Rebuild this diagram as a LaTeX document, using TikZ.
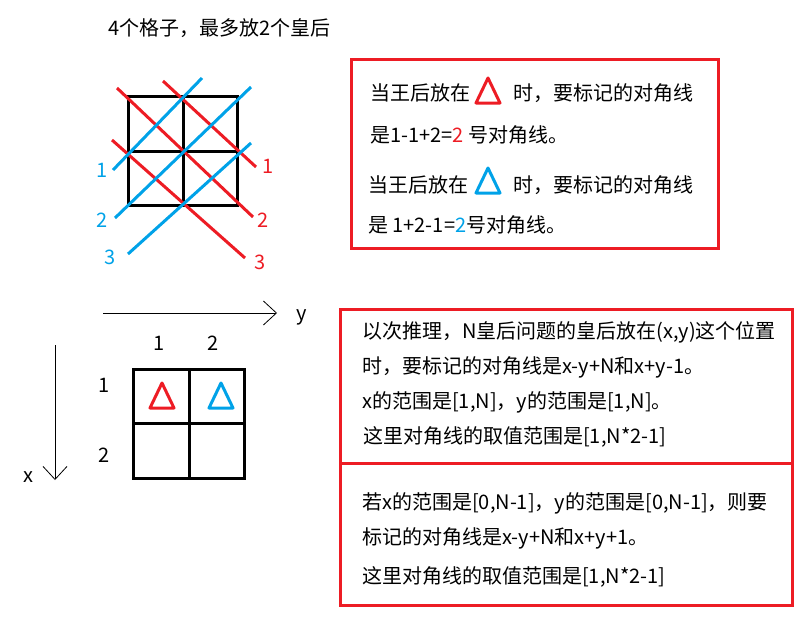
\documentclass[tikz,border=0pt]{standalone}
\usepackage{fontspec}
\setmainfont{Noto Sans CJK SC}
\usetikzlibrary{arrows.meta, positioning}
\definecolor{qred}{RGB}{237,28,36}
\definecolor{qblue}{RGB}{0,162,232}
\tikzset{
    txt/.style={anchor=west, inner sep=0pt, font=\fontsize{20}{24}\selectfont},
    num/.style={inner sep=0pt, font=\fontsize{20}{24}\selectfont},
    cell/.style={draw, line width=3pt},
    diag/.style={line width=3pt},
    box/.style={draw=qred, line width=3pt, inner sep=0pt},
    axis/.style={line width=0.8pt, -{Straight Barb[length=13pt, width=24pt]}},
    queen/.pic={\draw[line width=3pt, line join=round] (-12,12) -- (0,-13) -- (12,12) -- cycle;}
}
\begin{document}
\begin{tikzpicture}[x=1pt, y=-1pt]
    \useasboundingbox (0,0) rectangle (809,626);

    % Title
    \node (title) [txt] at (108,28) {4个格子，最多放2个皇后};

    % Small board with diagonals
    \draw[cell] (128,97) rectangle (237,205);
    \draw[cell] (183,97) -- (183,205);
    \draw[cell] (128,151) -- (237,151);

    \draw[diag, qred] (163,81) -- (256,167);
    \draw[diag, qred] (117,88) -- (253,217);
    \draw[diag, qred] (112,140) -- (245,258);
    \draw[diag, qblue] (113,170) -- (202,78);
    \draw[diag, qblue] (115,218) -- (251,87);
    \draw[diag, qblue] (128,254) -- (251,143);

    \node (r1) [num, qred] at (268,166) {1};
    \node (r2) [num, qred] at (263,220) {2};
    \node (r3) [num, qred] at (260,262) {3};
    \node (b1) [num, qblue] at (102,170) {1};
    \node (b2) [num, qblue] at (102,220) {2};
    \node (b3) [num, qblue] at (110,257) {3};

    % Explanation box
    \node (boxA) [box, minimum width=367pt, minimum height=188pt] at (534.5,154) {};
    \node (a1) [txt] at (370,93) {当王后放在};
    \pic[qred] at (488,91) {queen};
    \node (a2) [txt] at (513,93) {时，要标记的对角线};
    \node (a3) [txt] at (370,135) {是1-1+2={\color{qred}2} 号对角线。};
    \node (a4) [txt] at (368,185) {当王后放在};
    \pic[qblue] at (488,181) {queen};
    \node (a5) [txt] at (513,185) {时，要标记的对角线};
    \node (a6) [txt] at (368,225) {是 1+2-1={\color{qblue}2}号对角线。};

    % Axes
    \coordinate (ys) at (103,313);
    \coordinate (ye) at (277,313);
    \draw[axis] (ys) -- (ye);
    \node (ylab) [num] at (302,317) {y};
    \coordinate (xs) at (55,345);
    \coordinate (xe) at (55,480);
    \draw[axis] (xs) -- (xe);
    \node (xlab) [num] at (28,477) {x};

    % Board with queens
    \draw[cell] (133,369) rectangle (244,478);
    \draw[cell] (189,369) -- (189,478);
    \draw[cell] (133,423) -- (244,423);
    \node (c1) [num] at (159,343) {1};
    \node (c2) [num] at (213,343) {2};
    \node (w1) [num] at (104,385) {1};
    \node (w2) [num] at (104,455) {2};
    \pic[qred] at (162,396) {queen};
    \pic[qblue] at (221,396) {queen};

    % General rule
    \node (boxB) [box, minimum width=452pt, minimum height=154pt] at (566,386) {};
    \node (boxC) [box, minimum width=452pt, minimum height=142pt] at (566,534) {};
    \node (g1) [txt] at (362,332) {以次推理，N皇后问题的皇后放在(x,y)这个位置};
    \node (g2) [txt] at (362,367) {时，要标记的对角线是x-y+N和x+y-1。};
    \node (g3) [txt] at (362,402) {x的范围是[1,N]，y的范围是[1,N]。};
    \node (g4) [txt] at (363,437) {这里对角线的取值范围是[1,N*2-1]};
    \node (h1) [txt] at (362,503) {若x的范围是[0,N-1]，y的范围是[0,N-1]，则要};
    \node (h2) [txt] at (362,538) {标记的对角线是x-y+N和x+y+1。};
    \node (h3) [txt] at (362,577) {这里对角线的取值范围是[1,N*2-1]};
\end{tikzpicture}
\end{document}
